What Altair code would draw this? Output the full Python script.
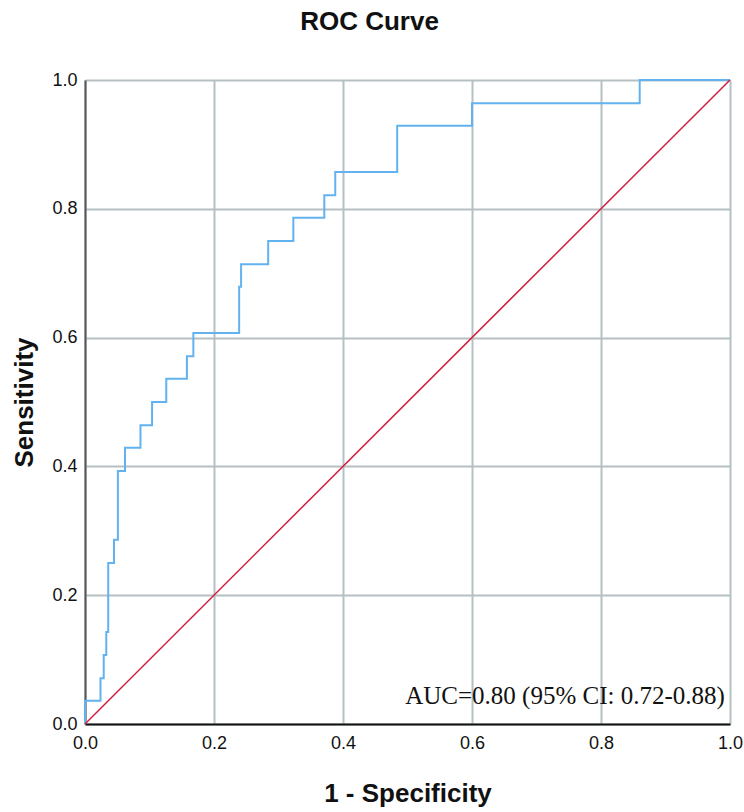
import altair as alt
import pandas as pd

# ROC step curve: 1 - specificity vs sensitivity at each threshold
fpr = [0.0, 0.0, 0.024, 0.029, 0.033, 0.036, 0.045, 0.051, 0.062, 0.086,
       0.104, 0.126, 0.158, 0.168, 0.239, 0.242, 0.284, 0.323, 0.371,
       0.388, 0.484, 0.600, 0.860, 1.0]
tpr = [0.0, 0.036, 0.071, 0.107, 0.143, 0.250, 0.286, 0.393, 0.429, 0.464,
       0.500, 0.536, 0.571, 0.607, 0.679, 0.714, 0.750, 0.786, 0.821,
       0.857, 0.929, 0.964, 1.0, 1.0]

# reference line of no discrimination
ref_x = [0.0, 1.0]
ref_y = [0.0, 1.0]

ticks = [0.0, 0.2, 0.4, 0.6, 0.8, 1.0]
auc_label = "AUC=0.80 (95% CI: 0.72-0.88)"

curve_df = pd.DataFrame({"fpr": fpr, "tpr": tpr, "order": range(len(fpr))})
ref_df = pd.DataFrame({"fpr": ref_x, "tpr": ref_y})
label_df = pd.DataFrame({"fpr": [0.992], "tpr": [0.024], "text": [auc_label]})

SANS = "Liberation Sans, Arial"

x_enc = alt.X(
    "fpr:Q",
    scale=alt.Scale(domain=[0, 1], nice=False),
    axis=alt.Axis(values=ticks, format=".1f", title="1 - Specificity"),
)
y_enc = alt.Y(
    "tpr:Q",
    scale=alt.Scale(domain=[0, 1], nice=False),
    axis=alt.Axis(values=ticks, format=".1f", title="Sensitivity"),
)

curve = alt.Chart(curve_df).mark_line(
    interpolate="step-after", color="#62b2ef", strokeWidth=2
).encode(x=x_enc, y=y_enc, order="order:Q")

diag = alt.Chart(ref_df).mark_line(color="#d11f3f", strokeWidth=1.5).encode(
    x="fpr:Q", y="tpr:Q"
)

auc = alt.Chart(label_df).mark_text(
    align="right", baseline="bottom", font="Liberation Serif, Times New Roman",
    fontSize=25, color="#111111"
).encode(x="fpr:Q", y="tpr:Q", text="text:N")

chart = (
    alt.layer(curve, diag, auc)
    .properties(
        width=645,
        height=644,
        autosize=alt.AutoSizeParams(type="none"),
        padding={"left": 85, "top": 80, "right": 14, "bottom": 88},
        title=alt.TitleParams(
            "ROC Curve", font=SANS, fontSize=26, fontWeight="bold",
            color="#111111", anchor="middle", dx=-38, offset=36,
        ),
    )
    .configure_view(stroke=None)
    .configure_axis(
        grid=True,
        gridColor="#b6c0c3",
        gridWidth=2,
        gridOpacity=1,
        ticks=False,
        labelFont=SANS,
        labelFontSize=18,
        labelColor="#111111",
        titleFont=SANS,
        titleFontSize=26,
        titleFontWeight="bold",
        titleColor="#111111",
        labelFlush=False,
    )
    .configure_axisY(
        domainColor="#555555", domainWidth=2, labelPadding=8, titlePadding=14
    )
    .configure_axisX(
        domainColor="#111111", domainWidth=2, labelPadding=10, titlePadding=28
    )
)

chart.save("out.html", embed_options={"renderer": "svg", "actions": False})
